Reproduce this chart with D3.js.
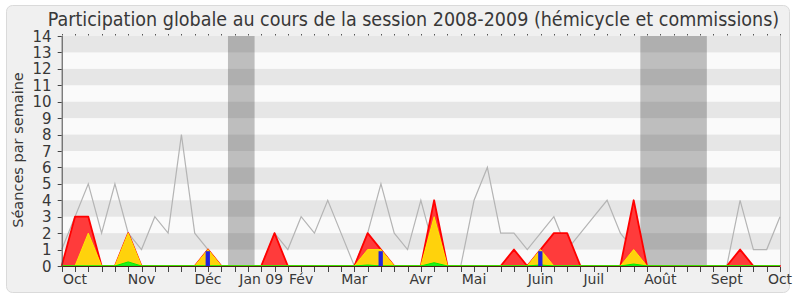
<!DOCTYPE html>
<html>
<head>
<meta charset="utf-8">
<script src="https://cdn.jsdelivr.net/npm/d3@7/dist/d3.min.js"></script>
<style>
  body { margin: 0; background: #fff; }
  svg text { font-family: "DejaVu Sans", sans-serif; fill: #383838; }
</style>
</head>
<body>
<div id="chart"></div>
<script>
// Données hebdomadaires (semaine 0 = début octobre 2008, 55 semaines)
const moyenne = [1, 3, 5, 2, 5, 2, 1, 3, 2, 8, 2, 1, 0, 0, 0, 0, 2, 1, 3, 2, 4, 2, 0, 2, 5, 2, 1, 4, 1, 0,
                 0, 4, 6, 2, 2, 1, 2, 3, 1, 2, 3, 4, 2, 1, 0, 0, 0, 0, 0, 0, 0, 4, 1, 1, 3];
const commission = [0, 3, 3, 0, 0, 2, 0, 0, 0, 0, 0, 1, 0, 0, 0, 0, 2, 0, 0, 0, 0, 0, 0, 2, 1, 0, 0, 0, 4, 0,
                    0, 0, 0, 0, 1, 0, 1, 2, 2, 0, 0, 0, 0, 4, 0, 0, 0, 0, 0, 0, 0, 1, 0, 0, 0];
const hemicycle = [0, 0, 2, 0, 0, 2, 0, 0, 0, 0, 0, 1, 0, 0, 0, 0, 0, 0, 0, 0, 0, 0, 0, 1, 1, 0, 0, 0, 3, 0,
                   0, 0, 0, 0, 0, 0, 1, 0, 0, 0, 0, 0, 0, 1, 0, 0, 0, 0, 0, 0, 0, 0, 0, 0, 0];
const interventions = [0, 0, 0, 0, 0, 0.25, 0, 0, 0, 0, 0, 0, 0, 0, 0, 0, 0, 0, 0, 0, 0, 0, 0, 0.06, 0, 0, 0, 0, 0.2, 0,
                       0, 0, 0, 0, 0, 0, 0.06, 0, 0, 0, 0, 0, 0, 0.12, 0, 0, 0, 0, 0, 0, 0, 0, 0, 0, 0];
const questions = [{ semaine: 11, valeur: 0.9 }, { semaine: 24, valeur: 0.9 }, { semaine: 36, valeur: 0.9 }];
const vacances = [[12.5, 14.5], [43.5, 48.5]];
const mois = ["Oct", "Nov", "Déc", "Jan 09", "Fév", "Mar", "Avr", "Mai", "Juin", "Juil", "Août", "Sept", "Oct"];
const moisSemaine = [1, 6, 11, 15, 18, 22, 27, 31, 36, 40, 45, 50, 54];
const yTicks = d3.range(0, 15);

const width = 800, height = 300;
const gauche = 61.7, droite = 780, haut = 36, bas = 266;

const svg = d3.select("#chart").append("svg")
    .attr("width", width)
    .attr("height", height);

// cadre arrondi
svg.append("rect")
    .attr("x", 6.5).attr("y", 5.5)
    .attr("width", 783).attr("height", 287)
    .attr("rx", 6)
    .style("fill", "#f0f0f0")
    .style("stroke", "#dadada");

const x = d3.scaleLinear().domain([0, moyenne.length - 1]).range([gauche, droite]);
const y = d3.scaleLinear().domain([0, 14]).range([bas, haut]);

// fond
svg.append("rect")
    .attr("x", gauche).attr("y", haut)
    .attr("width", droite - gauche).attr("height", bas - haut)
    .style("fill", "#fafafa");

// vacances parlementaires
svg.selectAll(".vac")
    .data(vacances)
    .enter()
    .append("rect")
    .attr("class", "vac")
    .attr("x", d => x(d[0]))
    .attr("y", haut)
    .attr("width", d => x(d[1]) - x(d[0]))
    .attr("height", bas - haut)
    .style("fill", "#bebebe");

// bandes grises
svg.selectAll(".bande")
    .data(yTicks.filter(v => v % 2 === 1))
    .enter()
    .append("rect")
    .attr("class", "bande")
    .attr("x", gauche)
    .attr("y", d => y(d + 1))
    .attr("width", droite - gauche)
    .attr("height", d => y(d) - y(d + 1))
    .style("fill", "#000")
    .style("opacity", 0.08);

// bordure droite
svg.append("line")
    .attr("x1", droite + 0.5).attr("x2", droite + 0.5)
    .attr("y1", haut).attr("y2", bas)
    .style("stroke", "#c8c8c8");

// moyenne (ligne grise)
const ligne = d3.line()
    .x((d, i) => x(i))
    .y(d => y(d));

svg.append("path")
    .datum(moyenne)
    .attr("d", ligne)
    .style("fill", "none")
    .style("stroke", "#b4b4b4")
    .style("stroke-width", 1.2);

const aire = d3.area()
    .x((d, i) => x(i))
    .y0(y(0))
    .y1(d => y(d));

svg.append("path")
    .datum(commission)
    .attr("d", aire)
    .style("fill", "#ff3b3b")
    .style("stroke", "#ff0000")
    .style("stroke-width", 1.8)
    .style("stroke-linejoin", "round");

svg.append("path")
    .datum(hemicycle)
    .attr("d", aire)
    .style("fill", "#ffd20c")
    .style("stroke", "#ffe800")
    .style("stroke-width", 1);

svg.append("path")
    .datum(interventions)
    .attr("d", aire)
    .style("fill", "#22ee22")
    .style("stroke", "#00ee00")
    .style("stroke-width", 1);

// questions orales
svg.selectAll(".question")
    .data(questions)
    .enter()
    .append("rect")
    .attr("class", "question")
    .attr("x", d => x(d.semaine) - 2.4)
    .attr("y", d => y(d.valeur))
    .attr("width", 4.3)
    .attr("height", d => y(0) - y(d.valeur))
    .style("fill", "#2222dd");

// axes
svg.append("line")
    .attr("x1", gauche).attr("x2", droite)
    .attr("y1", bas + 0.5).attr("y2", bas + 0.5)
    .style("stroke", "#4a2216")
    .style("stroke-width", 1.2);

svg.append("line")
    .attr("x1", gauche + 0.5).attr("x2", gauche + 0.5)
    .attr("y1", haut).attr("y2", bas + 1)
    .style("stroke", "#444");

const semaines = d3.range(0, moyenne.length);

svg.selectAll(".tickb")
    .data(semaines)
    .enter()
    .append("line")
    .attr("class", "tickb")
    .attr("x1", d => Math.round(x(d)) + 0.5)
    .attr("x2", d => Math.round(x(d)) + 0.5)
    .attr("y1", bas + 1)
    .attr("y2", bas + 6)
    .style("stroke", "#444");

svg.selectAll(".tickh")
    .data(semaines)
    .enter()
    .append("line")
    .attr("class", "tickh")
    .attr("x1", d => Math.round(x(d)) + 0.5)
    .attr("x2", d => Math.round(x(d)) + 0.5)
    .attr("y1", haut - 2)
    .attr("y2", haut - 0.5)
    .style("stroke", "#555");

svg.selectAll(".ticky")
    .data(yTicks)
    .enter()
    .append("line")
    .attr("class", "ticky")
    .attr("x1", gauche - 4)
    .attr("x2", gauche)
    .attr("y1", d => Math.round(y(d)) + 0.5)
    .attr("y2", d => Math.round(y(d)) + 0.5)
    .style("stroke", "#444");

svg.selectAll(".labely")
    .data(yTicks)
    .enter()
    .append("text")
    .attr("class", "labely")
    .attr("x", 51.5)
    .attr("y", d => y(d) + 5.5)
    .attr("text-anchor", "end")
    .style("font-size", "15px")
    .text(d => d);

svg.selectAll(".mois")
    .data(mois)
    .enter()
    .append("text")
    .attr("class", "mois")
    .attr("x", (d, i) => x(moisSemaine[i]))
    .attr("y", 284)
    .attr("text-anchor", "middle")
    .style("font-size", "14px")
    .text(d => d);

svg.append("text")
    .attr("transform", "translate(23,150) rotate(-90)")
    .attr("text-anchor", "middle")
    .style("font-size", "14.5px")
    .text("Séances par semaine");

svg.append("text")
    .attr("x", 413.5)
    .attr("y", 26)
    .attr("text-anchor", "middle")
    .style("font-family", "'DejaVu Sans Condensed', sans-serif")
    .style("font-size", "19.5px")
    .text("Participation globale au cours de la session 2008-2009 (hémicycle et commissions)");
</script>
</body>
</html>
